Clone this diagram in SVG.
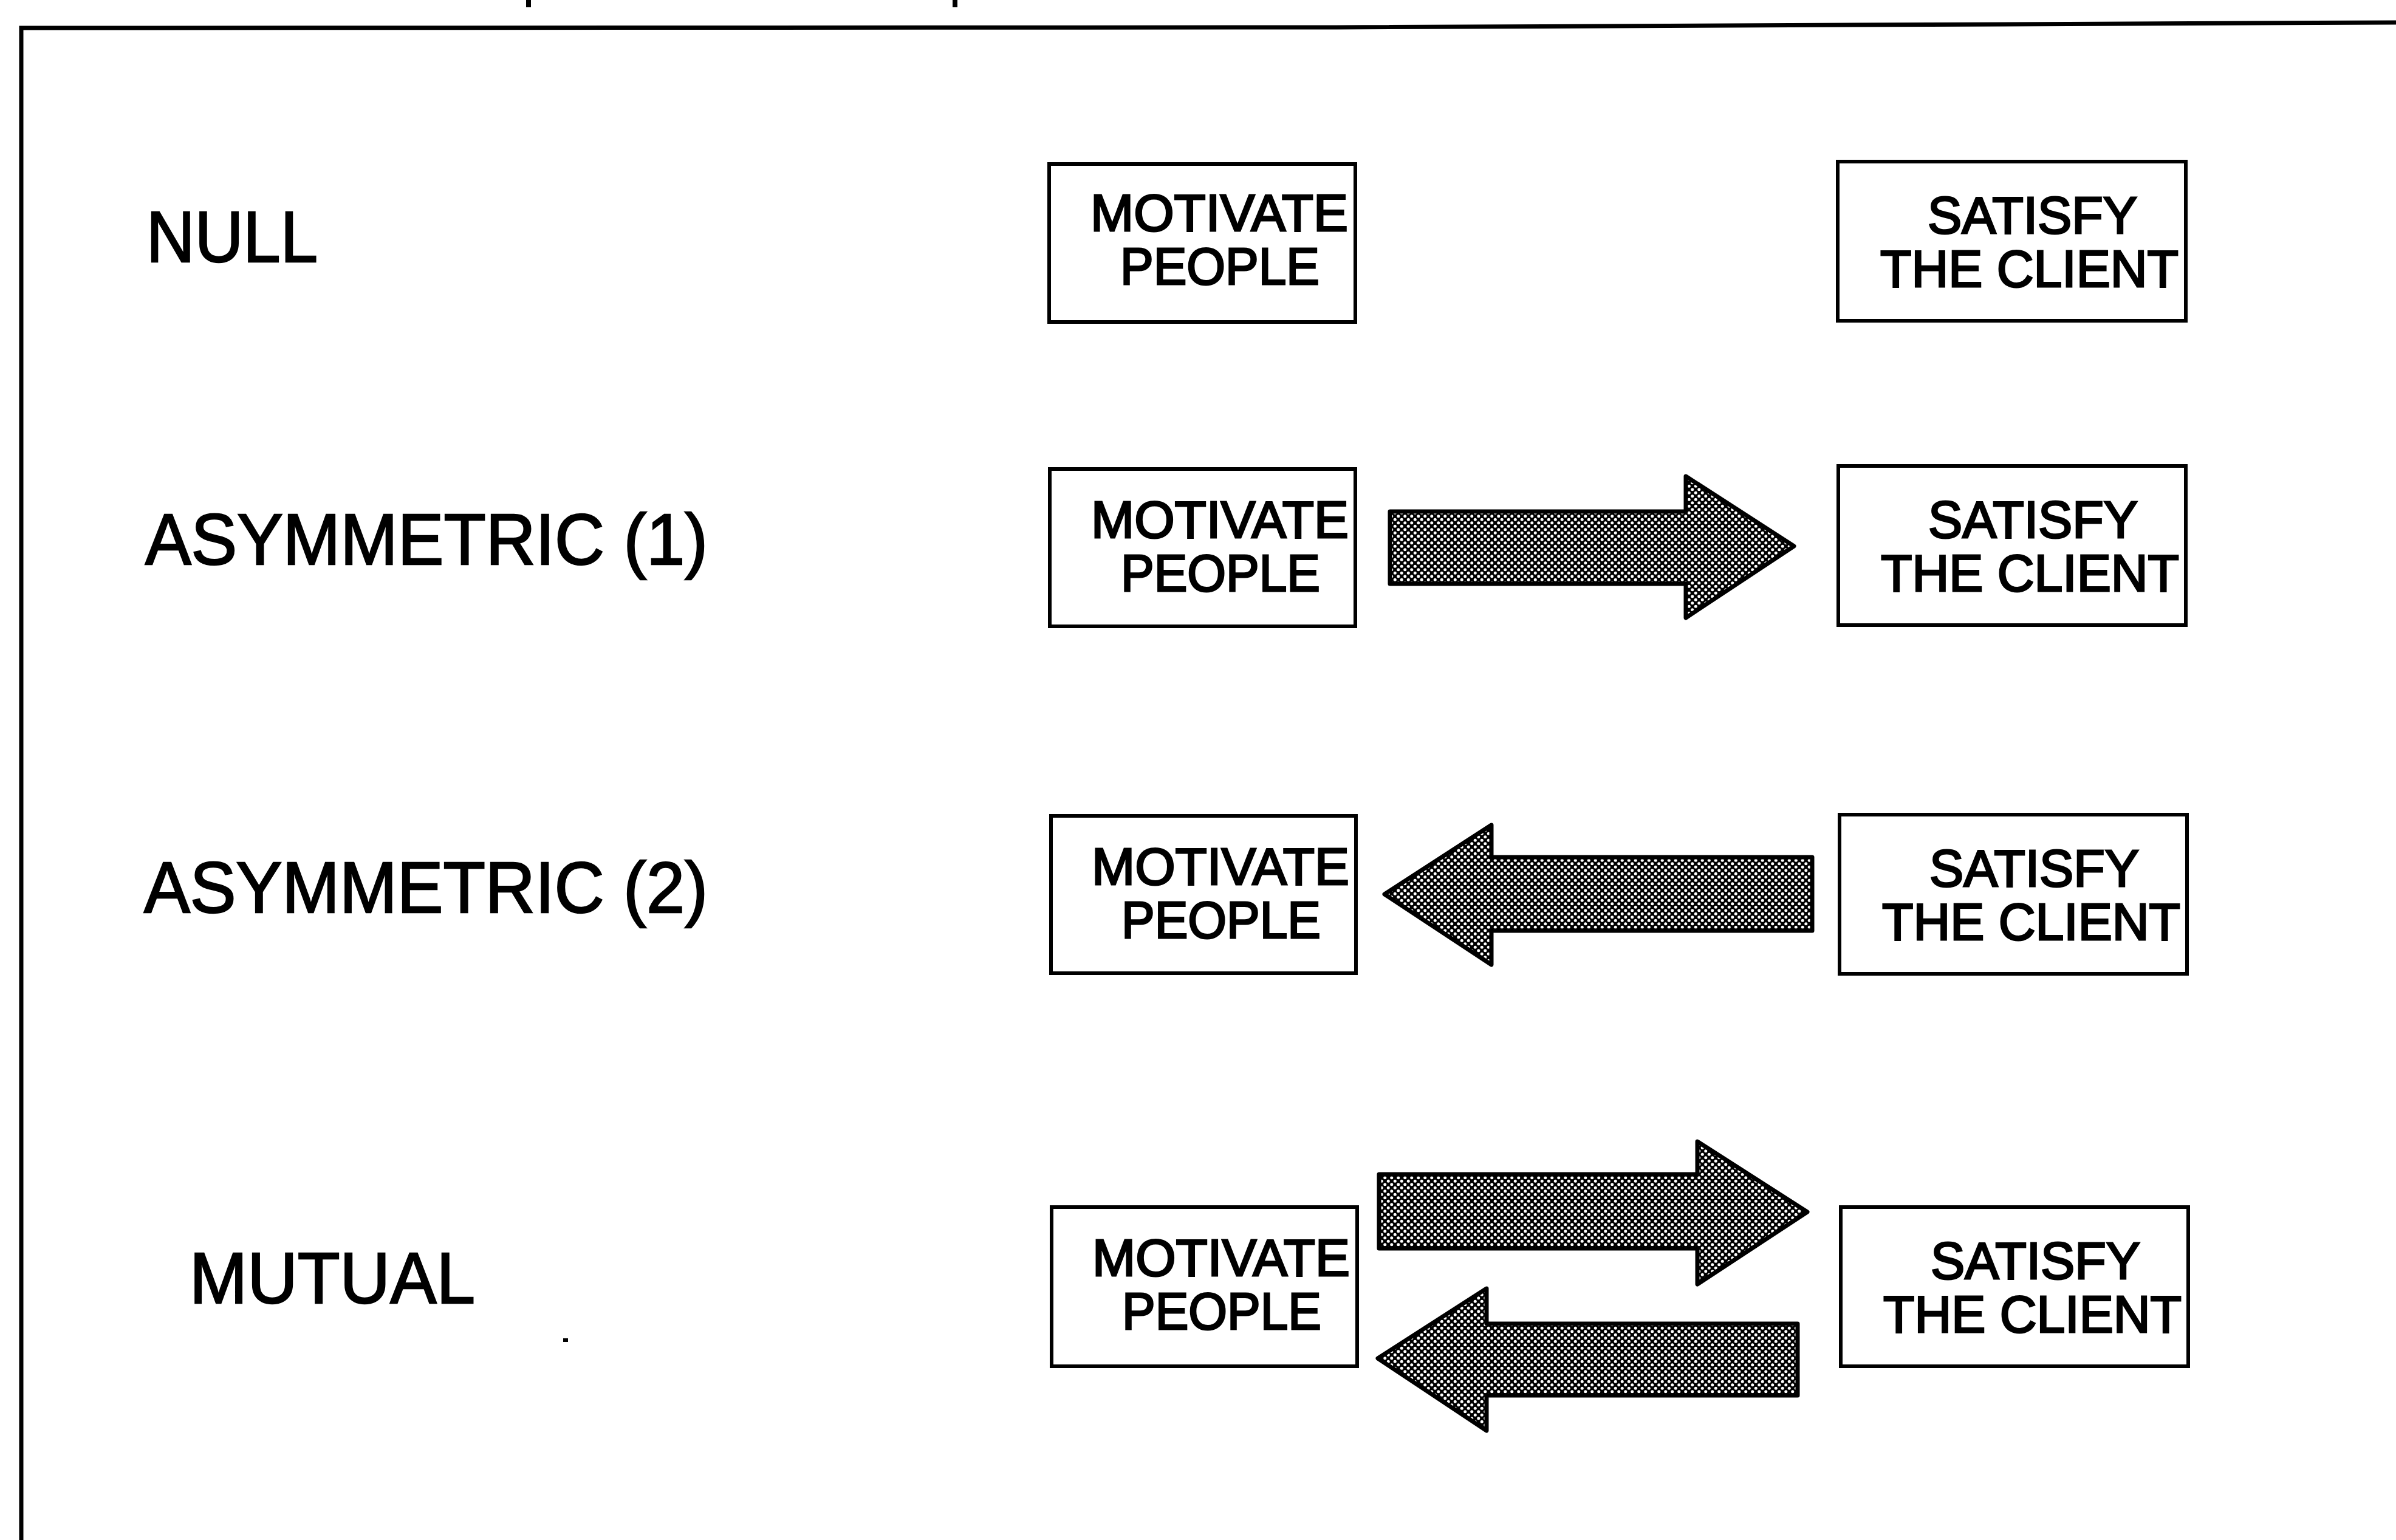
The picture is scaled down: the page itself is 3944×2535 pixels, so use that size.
<svg xmlns="http://www.w3.org/2000/svg" width="3944" height="2535" viewBox="0 0 3944 2535">
  <style>
    .frame { fill: none; stroke: #000; stroke-width: 7; }
    .box { fill: #fff; stroke: #000; stroke-width: 6; }
    .node-text { font-family: "Liberation Sans", Arial, Helvetica, sans-serif; font-size: 86px; fill: #000; stroke: #000; stroke-width: 3; }
    .row-label { font-family: "Liberation Sans", Arial, Helvetica, sans-serif; font-size: 118px; fill: #000; stroke: #000; stroke-width: 2.5; }
    .arrow { fill: url(#dots); stroke: #000; stroke-width: 7; stroke-linejoin: round; }
  </style>
  <defs>
    <!-- dark halftone fill used by the block arrows -->
    <pattern id="dots" width="11" height="11" patternUnits="userSpaceOnUse">
      <rect width="11" height="11" fill="#000"/>
      <circle cx="2.75" cy="2.75" r="2.5" fill="#fff"/>
      <circle cx="8.25" cy="8.25" r="2.5" fill="#fff"/>
    </pattern>
  </defs>

  <rect width="3944" height="2535" fill="#fff"/>

  <!-- outer frame: top rule and left rule only -->
  <g id="frame">
    <polyline class="frame" points="35,2535 35,46 2200,45 3944,37"/>
    <rect x="866" y="0" width="8" height="12" fill="#000"/>
    <rect x="1568" y="0" width="8" height="12" fill="#000"/>
    <rect x="927" y="2203" width="8" height="6" fill="#000"/>
  </g>

  <!-- row labels -->
  <g id="labels">
    <text id="label-null" class="row-label" x="241" y="431" textLength="282" lengthAdjust="spacingAndGlyphs">NULL</text>
    <text id="label-asym1" class="row-label" x="239" y="929" textLength="926" lengthAdjust="spacingAndGlyphs">ASYMMETRIC (1)</text>
    <text id="label-asym2" class="row-label" x="237" y="1502" textLength="928" lengthAdjust="spacingAndGlyphs">ASYMMETRIC (2)</text>
    <text id="label-mutual" class="row-label" x="312" y="2145" textLength="470" lengthAdjust="spacingAndGlyphs">MUTUAL</text>
  </g>

  <!-- row 1: null -->
  <g id="motivate-1">
    <rect class="box" x="1727" y="270" width="504" height="260"/>
    <text class="node-text" x="1795" y="380" textLength="424" lengthAdjust="spacingAndGlyphs">MOTIVATE</text>
    <text class="node-text" x="1844" y="468" textLength="328" lengthAdjust="spacingAndGlyphs">PEOPLE</text>
  </g>
  <g id="satisfy-1">
    <rect class="box" x="3025" y="266" width="573" height="262"/>
    <text class="node-text" x="3173" y="384" textLength="345" lengthAdjust="spacingAndGlyphs">SATISFY</text>
    <text class="node-text" x="3095" y="472" textLength="491" lengthAdjust="spacingAndGlyphs">THE CLIENT</text>
  </g>

  <!-- row 2: asymmetric (1) -->
  <g id="motivate-2">
    <rect class="box" x="1728" y="772" width="503" height="259"/>
    <text class="node-text" x="1796" y="885" textLength="424" lengthAdjust="spacingAndGlyphs">MOTIVATE</text>
    <text class="node-text" x="1845" y="973" textLength="328" lengthAdjust="spacingAndGlyphs">PEOPLE</text>
  </g>
  <g id="satisfy-2">
    <rect class="box" x="3026" y="767" width="572" height="262"/>
    <text class="node-text" x="3174" y="885" textLength="345" lengthAdjust="spacingAndGlyphs">SATISFY</text>
    <text class="node-text" x="3096" y="973" textLength="491" lengthAdjust="spacingAndGlyphs">THE CLIENT</text>
  </g>

  <!-- row 3: asymmetric (2) -->
  <g id="motivate-3">
    <rect class="box" x="1730" y="1343" width="502" height="259"/>
    <text class="node-text" x="1797" y="1456" textLength="424" lengthAdjust="spacingAndGlyphs">MOTIVATE</text>
    <text class="node-text" x="1846" y="1544" textLength="328" lengthAdjust="spacingAndGlyphs">PEOPLE</text>
  </g>
  <g id="satisfy-3">
    <rect class="box" x="3028" y="1341" width="572" height="262"/>
    <text class="node-text" x="3176" y="1459" textLength="345" lengthAdjust="spacingAndGlyphs">SATISFY</text>
    <text class="node-text" x="3098" y="1547" textLength="491" lengthAdjust="spacingAndGlyphs">THE CLIENT</text>
  </g>

  <!-- row 4: mutual -->
  <g id="motivate-4">
    <rect class="box" x="1731" y="1987" width="503" height="262"/>
    <text class="node-text" x="1798" y="2100" textLength="424" lengthAdjust="spacingAndGlyphs">MOTIVATE</text>
    <text class="node-text" x="1847" y="2188" textLength="328" lengthAdjust="spacingAndGlyphs">PEOPLE</text>
  </g>
  <g id="satisfy-4">
    <rect class="box" x="3030" y="1987" width="572" height="262"/>
    <text class="node-text" x="3178" y="2105" textLength="345" lengthAdjust="spacingAndGlyphs">SATISFY</text>
    <text class="node-text" x="3100" y="2193" textLength="491" lengthAdjust="spacingAndGlyphs">THE CLIENT</text>
  </g>

  <!-- block arrows between the boxes -->
  <g id="connectors">
    <polygon id="arrow-asym1" class="arrow" points="2288,842 2775,842 2775,784 2953,899 2775,1017 2775,961 2288,961"/>
    <polygon id="arrow-asym2" class="arrow" points="2983,1411 2455,1411 2455,1358 2279,1472 2455,1588 2455,1532 2983,1532"/>
    <polygon id="arrow-mutual-right" class="arrow" points="2270,1933 2794,1933 2794,1879 2975,1995 2794,2114 2794,2055 2270,2055"/>
    <polygon id="arrow-mutual-left" class="arrow" points="2959,2179 2447,2179 2447,2121 2268,2236 2447,2355 2447,2297 2959,2297"/>
  </g>
</svg>
